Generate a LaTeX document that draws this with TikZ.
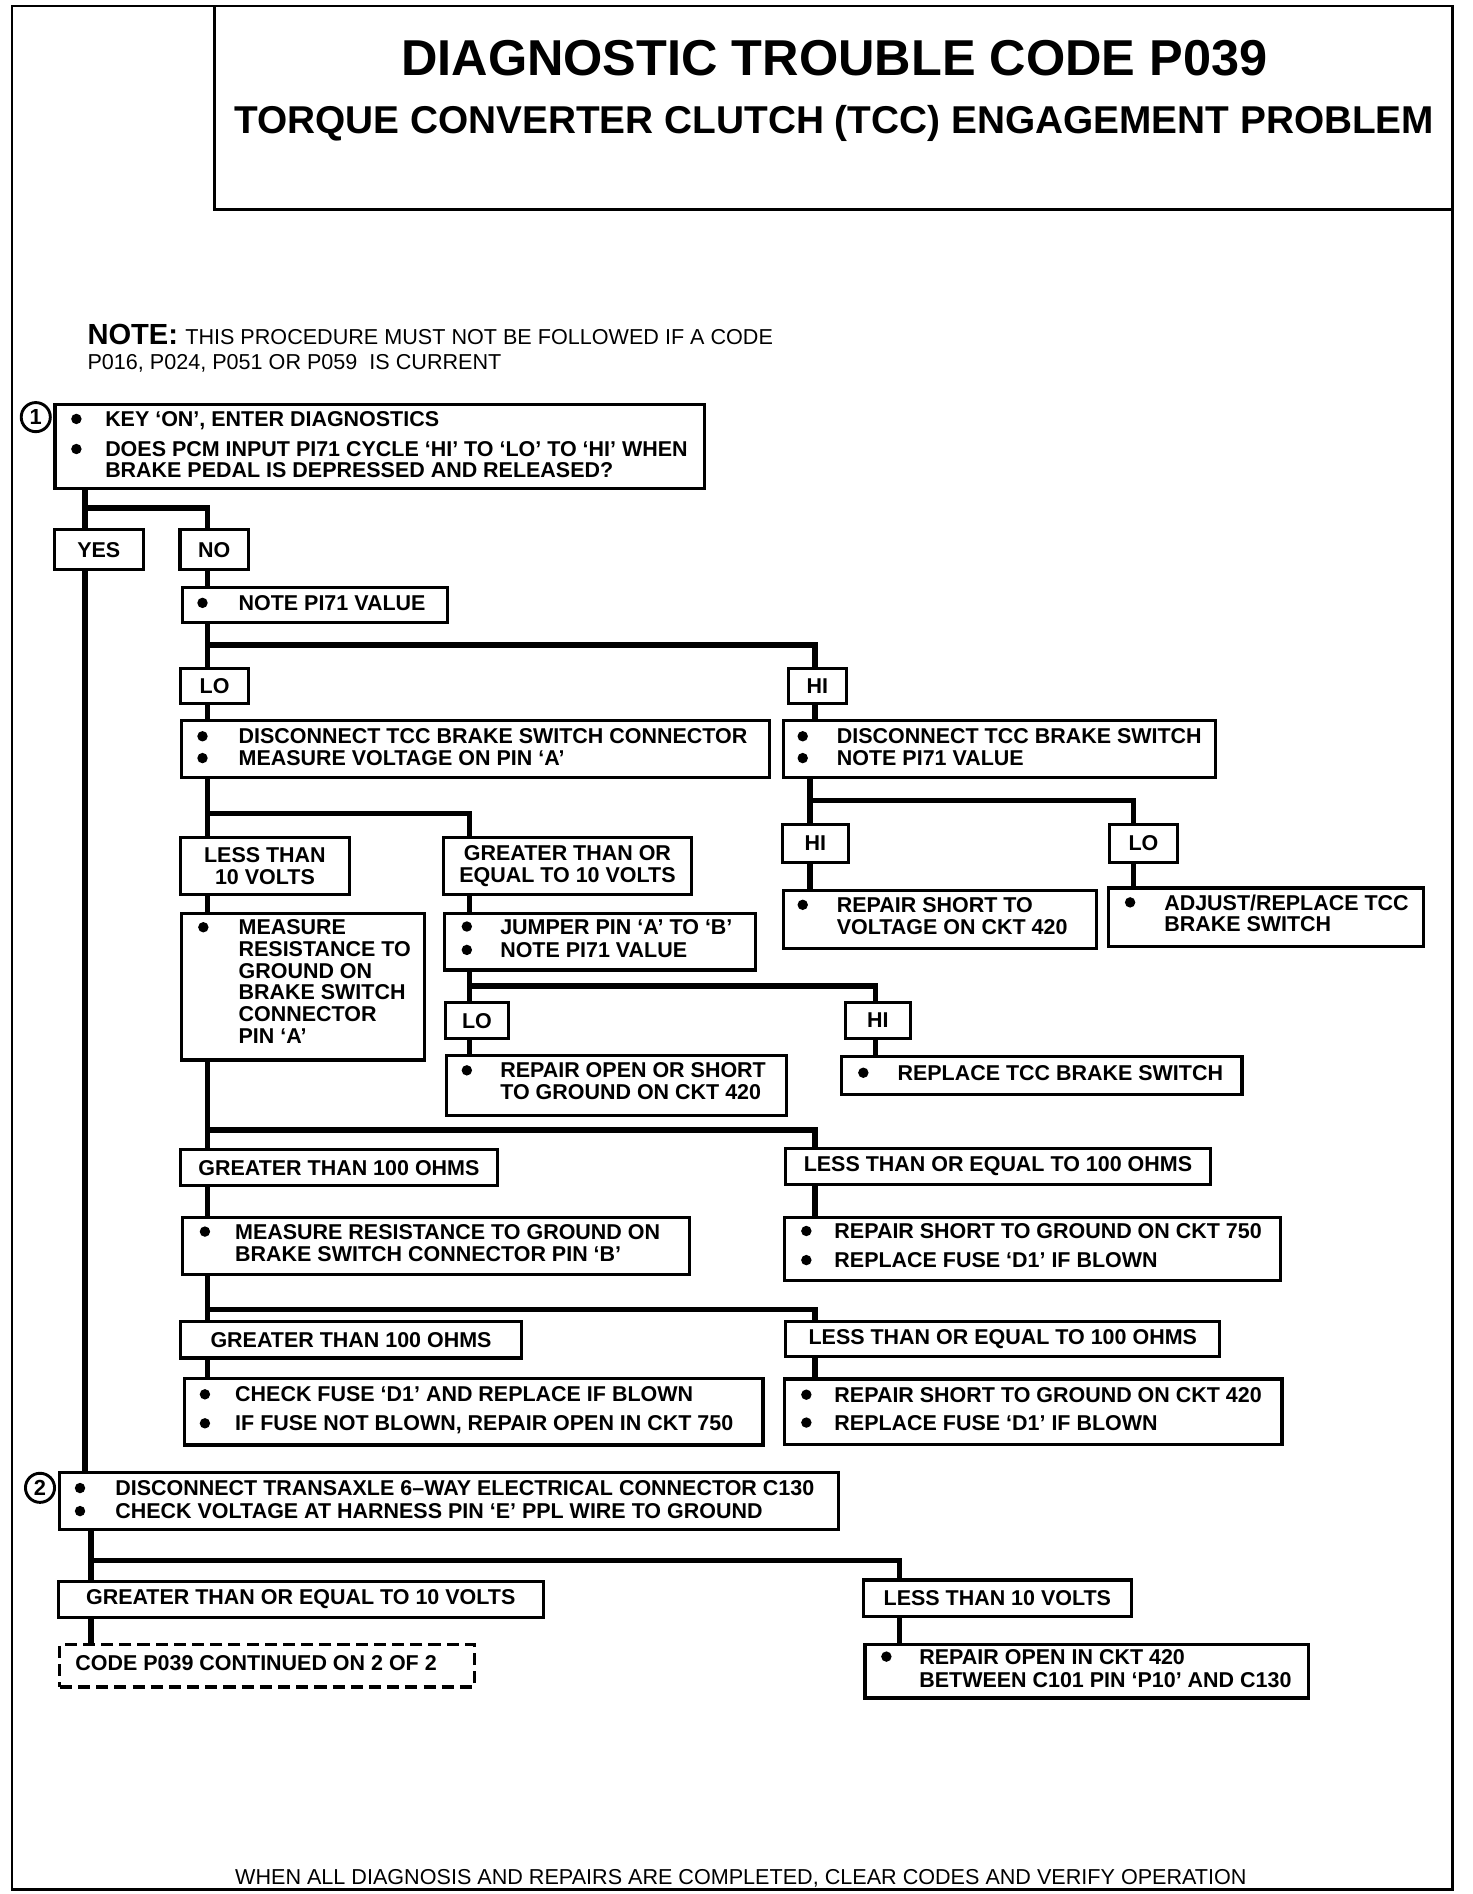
\documentclass[tikz,border=0pt]{standalone}
\usepackage{fontspec}
\setmainfont{Liberation Sans}
\newcommand\mkbox[6][]{\node[box,#1,minimum width={#5-#3},minimum height={#6-#4}] (#2) at (#3,#4) {};}
\newcommand\mklbl[6]{\node[lbl,minimum width={#4-#2},minimum height={#5-#3}] (#1) at ({(#2+#4)/2},{(#3+#5)/2}) {#6};}
\newcommand\blt[5]{\fill (#2,{#4-6.3}) circle (4.3); \node[txt] (#1) at (#3,#4) {#5};}
\newcommand\plt[4]{\node[txt] (#1) at (#2,#3) {#4};}
\begin{document}
\begin{tikzpicture}[x=1pt,y=-1pt,
  box/.style={draw, line width=2.6pt, inner sep=0pt, anchor=north west},
  lbl/.style={draw, line width=2.6pt, inner sep=0pt, align=center, font=\bfseries\fontsize{17.7}{18}\selectfont},
  txt/.style={anchor=base west, inner sep=0pt, font=\bfseries\fontsize{17.7}{19}\selectfont},
  conn/.style={line width=4.5pt},
  num/.style={circle, draw, line width=2.4pt, minimum size=24pt, inner sep=0pt, font=\bfseries\fontsize{18}{18}\selectfont}]
\useasboundingbox (0,0) rectangle (1214,1562);
% frame and title box
\draw[line width=2.2pt] (10,5) rectangle (1198,1558);
\draw[line width=2.6pt] (177,5) -- (177,173) -- (1198,173);
\node[anchor=base, inner sep=0pt, font=\bfseries\fontsize{41.6}{42}\selectfont] (title) at (688,62) {DIAGNOSTIC TROUBLE CODE P039};
\node[anchor=base, inner sep=0pt, font=\bfseries\fontsize{32}{32}\selectfont] (subtitle) at (688,110) {TORQUE CONVERTER CLUTCH (TCC) ENGAGEMENT PROBLEM};
% note
\node[anchor=base west, inner sep=0pt] (note1) at (72,284) {{\bfseries\fontsize{24}{24}\selectfont NOTE:}\hspace{6pt}{\fontsize{17.8}{18}\selectfont THIS PROCEDURE MUST NOT BE FOLLOWED IF A CODE}};
\node[anchor=base west, inner sep=0pt, font=\fontsize{17.8}{18}\selectfont] (note2) at (72,305) {P016, P024, P051 OR P059\ \ IS CURRENT};
% footer
\node[anchor=base, inner sep=0pt, font=\fontsize{17.8}{18}\selectfont] (footer) at (611,1554) {WHEN ALL DIAGNOSIS AND REPAIRS ARE COMPLETED, CLEAR CODES AND VERIFY OPERATION};

% step 1
\mkbox{b1}{44}{332.6}{580}{401.4}
\node[num] (c1) at (29.5,344) {1};
\blt{b1a}{63}{86.6}{351.8}{KEY `ON', ENTER DIAGNOSTICS}
\blt{b1b}{63}{86.6}{376.6}{DOES PCM INPUT PI71 CYCLE `HI' TO `LO' TO `HI' WHEN}
\plt{b1c}{86.6}{393.5}{BRAKE PEDAL IS DEPRESSED AND RELEASED?}

\mklbl{yes}{45}{437}{118}{470}{YES}
\mklbl{no}{148.5}{437}{205}{470}{NO}

\mkbox{n1}{149}{483}{368}{512}
\blt{n1a}{167}{196.6}{503.5}{NOTE PI71 VALUE}

\mklbl{lo1}{149}{551}{205}{580}{LO}
\mklbl{hi1}{650}{551}{698}{580}{HI}

\mkbox{dA}{148.5}{593}{633}{640}
\blt{dAa}{167}{196.6}{613.5}{DISCONNECT TCC BRAKE SWITCH CONNECTOR}
\blt{dAb}{167}{196.6}{631.5}{MEASURE VOLTAGE ON PIN `A'}
\mkbox{dB}{645}{593}{1001}{640}
\blt{dBa}{662}{690}{613.5}{DISCONNECT TCC BRAKE SWITCH}
\blt{dBb}{662}{690}{631.5}{NOTE PI71 VALUE}

\mklbl{lt10}{149}{691}{288}{738}{LESS THAN\\10 VOLTS}
\mklbl{gt10}{366}{691}{570}{738}{GREATER THAN OR\\EQUAL TO 10 VOLTS}

\mkbox{meas}{148.5}{751.9}{349}{872.9}
\blt{ma}{167.7}{196.6}{771}{MEASURE}
\plt{mb}{196.6}{788.9}{RESISTANCE TO}
\plt{mc}{196.6}{806.8}{GROUND ON}
\plt{md}{196.6}{824.7}{BRAKE SWITCH}
\plt{me}{196.6}{842.6}{CONNECTOR}
\plt{mf}{196.6}{860.5}{PIN `A'}

\mkbox{jump}{365.6}{751.9}{622}{798.6}
\blt{ja}{385}{412.4}{770.4}{JUMPER PIN `A' TO `B'}
\blt{jb}{385}{412.4}{789.7}{NOTE PI71 VALUE}

\mklbl{lo2}{367.6}{827}{419.2}{856.4}{LO}
\mklbl{hi2}{697}{827}{751}{856.4}{HI}

\mkbox{rop}{367}{869.3}{647}{919}
\blt{ra}{385}{412.4}{889}{REPAIR OPEN OR SHORT}
\plt{rb}{412.4}{907}{TO GROUND ON CKT 420}

\mkbox{rts}{693}{870}{1023}{901}
\blt{rtsa}{712}{740}{891}{REPLACE TCC BRAKE SWITCH}

\mklbl{hi3}{645}{680}{700}{711}{HI}
\mklbl{lo3}{915}{680}{971}{711}{LO}

\mkbox{rsv}{645}{733}{903}{781}
\blt{rsva}{662}{690}{752.5}{REPAIR SHORT TO}
\plt{rsvb}{690}{770.5}{VOLTAGE ON CKT 420}
\mkbox{adj}{913}{731}{1173}{779}
\blt{adja}{932}{960}{750.5}{ADJUST/REPLACE TCC}
\plt{adjb}{960}{768.5}{BRAKE SWITCH}

\mklbl{gt100a}{149}{948}{410}{978}{GREATER THAN 100 OHMS}
\mklbl{le100a}{648}{947}{998}{977}{LESS THAN OR EQUAL TO 100 OHMS}

\mkbox{mrb}{149}{1003}{567}{1050}
\blt{mrba}{169}{193.8}{1022}{MEASURE RESISTANCE TO GROUND ON}
\plt{mrbb}{193.8}{1040.5}{BRAKE SWITCH CONNECTOR PIN `B'}
\mkbox{rsg750}{646}{1003}{1055}{1055}
\blt{s7a}{665}{688}{1021.5}{REPAIR SHORT TO GROUND ON CKT 750}
\blt{s7b}{665}{688}{1045.5}{REPLACE FUSE `D1' IF BLOWN}

\mklbl{gt100b}{149}{1090}{430}{1120}{GREATER THAN 100 OHMS}
\mklbl{le100b}{648}{1090}{1006}{1119}{LESS THAN OR EQUAL TO 100 OHMS}

\mkbox{chk}{150.7}{1135.4}{628}{1190.4}
\blt{ca}{169}{193.8}{1156.2}{CHECK FUSE `D1' AND REPLACE IF BLOWN}
\blt{cb}{169}{193.8}{1180.1}{IF FUSE NOT BLOWN, REPAIR OPEN IN CKT 750}
\mkbox{rsg420}{646}{1136}{1056}{1190}
\blt{s4a}{665}{688}{1156.5}{REPAIR SHORT TO GROUND ON CKT 420}
\blt{s4b}{665}{688}{1179.5}{REPLACE FUSE `D1' IF BLOWN}

% step 2
\mkbox{b2}{48}{1213}{690}{1260}
\node[num] (c2) at (33,1227) {2};
\blt{b2a}{66}{95}{1233.5}{DISCONNECT TRANSAXLE 6--WAY ELECTRICAL CONNECTOR C130}
\blt{b2b}{66}{95}{1252.5}{CHECK VOLTAGE AT HARNESS PIN `E' PPL WIRE TO GROUND}

\mklbl{ge10b}{48}{1304}{448}{1334}{GREATER THAN OR EQUAL TO 10 VOLTS}
\mklbl{lt10b}{712}{1303}{933}{1333}{LESS THAN 10 VOLTS}

\mkbox[dash pattern=on 10pt off 5pt]{cont}{48}{1355}{390}{1390}
\plt{conta}{62}{1377.5}{CODE P039 CONTINUED ON 2 OF 2}
\mkbox{rop2}{712}{1355}{1078}{1399}
\blt{r2a}{731}{758}{1372.5}{REPAIR OPEN IN CKT 420}
\plt{r2b}{758}{1391.5}{BETWEEN C101 PIN `P10' AND C130}

% connectors
\coordinate (cA) at (70,0);
\coordinate (cL) at (171,0);
\coordinate (cR) at (672,0);
\coordinate (cG) at (387,0);
\coordinate (cH2) at (722,0);
\coordinate (cH3) at (668,0);
\coordinate (cL3) at (935,0);
\coordinate (cB) at (75,0);
\coordinate (cT) at (742,0);
\coordinate (jA) at (70,419);
\coordinate (j2) at (171,532);
\coordinate (j3) at (171,670.8);
\coordinate (j4) at (387,813.2);
\coordinate (j5) at (668,660);
\coordinate (j6) at (171,932);
\coordinate (j7) at (171,1080);
\coordinate (j8) at (75,1287);

\draw[conn] (b1.south -| cA) -- (yes.north -| cA);
\draw[conn] (jA) -| (no.north -| cL);
\draw[conn] (yes.south -| cA) -- (b2.north -| cA);
\draw[conn] (no.south -| cL) -- (n1.north -| cL);
\draw[conn] (n1.south -| cL) -- (lo1.north -| cL);
\draw[conn] (j2) -| (hi1.north -| cR);
\draw[conn] (lo1.south -| cL) -- (dA.north -| cL);
\draw[conn] (hi1.south -| cR) -- (dB.north -| cR);
\draw[conn] (dA.south -| cL) -- (lt10.north -| cL);
\draw[conn] (j3) -| (gt10.north -| cG);
\draw[conn] (lt10.south -| cL) -- (meas.north -| cL);
\draw[conn] (gt10.south -| cG) -- (jump.north -| cG);
\draw[conn] (jump.south -| cG) -- (lo2.north -| cG);
\draw[conn] (j4) -| (hi2.north -| cH2);
\draw[conn] (lo2.south -| cG) -- (rop.north -| cG);
\draw[conn] (hi2.south -| cH2) -- (rts.north -| cH2);
\draw[conn] (dB.south -| cH3) -- (hi3.north -| cH3);
\draw[conn] (j5) -| (lo3.north -| cL3);
\draw[conn] (hi3.south -| cH3) -- (rsv.north -| cH3);
\draw[conn] (lo3.south -| cL3) -- (adj.north -| cL3);
\draw[conn] (meas.south -| cL) -- (gt100a.north -| cL);
\draw[conn] (j6) -| (le100a.north -| cR);
\draw[conn] (gt100a.south -| cL) -- (mrb.north -| cL);
\draw[conn] (le100a.south -| cR) -- (rsg750.north -| cR);
\draw[conn] (mrb.south -| cL) -- (gt100b.north -| cL);
\draw[conn] (j7) -| (le100b.north -| cR);
\draw[conn] (gt100b.south -| cL) -- (chk.north -| cL);
\draw[conn] (le100b.south -| cR) -- (rsg420.north -| cR);
\draw[conn] (b2.south -| cB) -- (ge10b.north -| cB);
\draw[conn] (j8) -| (lt10b.north -| cT);
\draw[conn] (ge10b.south -| cB) -- (cont.north -| cB);
\draw[conn] (lt10b.south -| cT) -- (rop2.north -| cT);
\end{tikzpicture}
\end{document}
